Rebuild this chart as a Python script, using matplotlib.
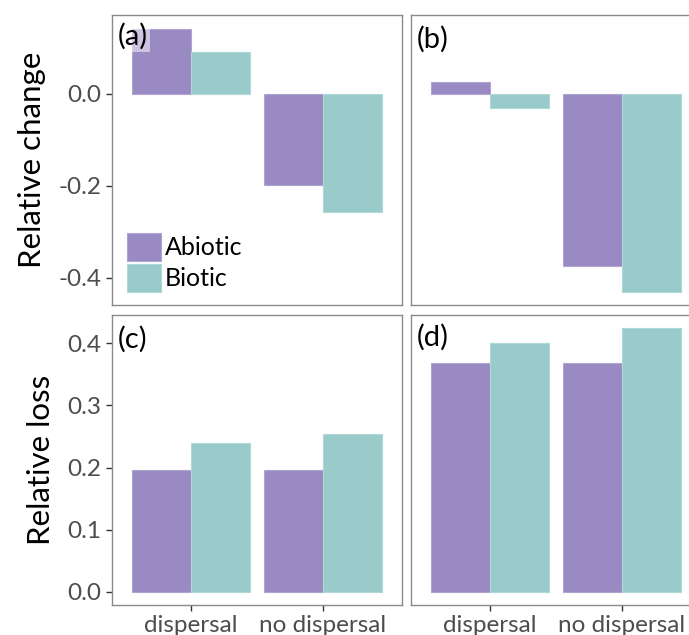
import matplotlib
matplotlib.use("Agg")
import matplotlib.pyplot as plt
import numpy as np
from matplotlib.patches import Patch

# ---- data ----
categories = ["dispersal", "no dispersal"]
groups = ["Abiotic", "Biotic"]
change_a_abiotic = [0.142, -0.199]
change_a_biotic = [0.092, -0.258]
change_b_abiotic = [0.026, -0.374]
change_b_biotic = [-0.030, -0.431]
loss_c_abiotic = [0.196, 0.196]
loss_c_biotic = [0.240, 0.2545]
loss_d_abiotic = [0.368, 0.368]
loss_d_biotic = [0.401, 0.424]
change_ticks = [0.0, -0.2, -0.4]
change_ticklabels = ["0.0", "-0.2", "-0.4"]
loss_ticks = [0.0, 0.1, 0.2, 0.3, 0.4]
loss_ticklabels = ["0.0", "0.1", "0.2", "0.3", "0.4"]
panel_labels = ["(a)", "(b)", "(c)", "(d)"]

# ---- style ----
FONT = ["Lato", "DejaVu Sans"]
plt.rcParams["font.family"] = FONT
C_ABIO = "#998ac3"
C_BIO = "#99cbcb"
E_ABIO = "#b0a4d2"
E_BIO = "#b0d8d8"
BORDER = "#8a8a8a"
TICKC = "#4d4d4d"

W, H = 689, 635
fig = plt.figure(figsize=(W / 100, H / 100), dpi=100)

def ax_at(x0, y0, x1, y1):
    return fig.add_axes([x0 / W, 1 - y1 / H, (x1 - x0) / W, (y1 - y0) / H])

ax_a = ax_at(112, 15, 402, 305)
ax_b = ax_at(411, 15, 701, 305)
ax_c = ax_at(112, 315.3, 402, 605)
ax_d = ax_at(411, 315.3, 701, 605)

x = np.arange(1, len(categories) + 1)
bw = 0.45

def draw(ax, abio, bio):
    ax.bar(x - bw / 2, abio, width=bw, color=C_ABIO, edgecolor=E_ABIO, linewidth=0.8, zorder=2)
    ax.bar(x + bw / 2, bio, width=bw, color=C_BIO, edgecolor=E_BIO, linewidth=0.8, zorder=2)
    ax.set_xlim(0.4, 2.6)
    for s in ax.spines.values():
        s.set_color(BORDER)
        s.set_linewidth(1.0)
    ax.tick_params(axis="both", colors="#333333", labelcolor=TICKC, labelsize=17.5,
                   length=4, width=1)

draw(ax_a, change_a_abiotic, change_a_biotic)
draw(ax_b, change_b_abiotic, change_b_biotic)
draw(ax_c, loss_c_abiotic, loss_c_biotic)
draw(ax_d, loss_d_abiotic, loss_d_biotic)

for ax in (ax_a, ax_b):
    ax.set_ylim(-0.4595, 0.172)
for ax in (ax_c, ax_d):
    ax.set_ylim(-0.0212, 0.445)

for ax in (ax_a, ax_b):
    ax.set_xticks([])
for ax in (ax_c, ax_d):
    ax.set_xticks(x)
    ax.set_xticklabels(categories)
    ax.tick_params(axis="x", pad=3)

ax_a.set_yticks(change_ticks)
ax_a.set_yticklabels(change_ticklabels)
ax_c.set_yticks(loss_ticks)
ax_c.set_yticklabels(loss_ticklabels)
for ax in (ax_b, ax_d):
    ax.set_yticks([])

ax_a.set_ylabel("Relative change", fontsize=22.5, color="black", labelpad=9)
ax_c.set_ylabel("Relative loss", fontsize=22.5, color="black", labelpad=9)
fig.align_ylabels([ax_a, ax_c])

offsets = [(6, 8), (6, 11), (6, 11), (6, 9)]
for ax, lab, (dx, dy) in zip((ax_a, ax_b, ax_c, ax_d), panel_labels, offsets):
    ax.text(dx / 290, 1 - dy / 290, lab, transform=ax.transAxes, ha="left", va="top",
            fontsize=21, color="black", zorder=5,
            bbox=dict(boxstyle="square,pad=0.06", facecolor="white", alpha=0.5, edgecolor="none"))

handles = [Patch(facecolor=C_ABIO, edgecolor=E_ABIO, linewidth=0.8),
           Patch(facecolor=C_BIO, edgecolor=E_BIO, linewidth=0.8)]
leg = ax_a.legend(handles, groups, loc="lower left", bbox_to_anchor=(15 / 290, 13 / 290),
                  frameon=False, fontsize=18, handlelength=1.35, handleheight=1.35,
                  handletextpad=0.15, labelspacing=0.12, borderpad=0, borderaxespad=0)

fig.savefig("out.png", dpi=100)
